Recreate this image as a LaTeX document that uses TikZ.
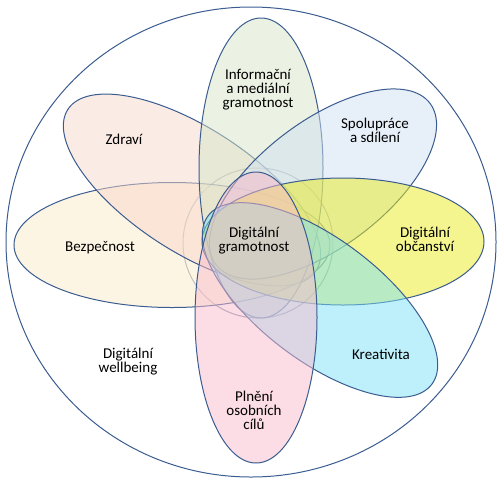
\documentclass[tikz,border=0pt]{standalone}
\usepackage{fontspec}
\setmainfont{Carlito}
\definecolor{edgeblue}{HTML}{3A5C90}
\definecolor{cBez}{HTML}{FBEBC9}
\definecolor{cZdr}{HTML}{F7D7CB}
\definecolor{cInf}{HTML}{D7E5C7}
\definecolor{cSpo}{HTML}{CFDFF1}
\definecolor{cObc}{HTML}{EBEB21}
\definecolor{cKre}{HTML}{7DE1F7}
\definecolor{cPln}{HTML}{F9BBCD}
\tikzset{
  petal/.style={draw=edgeblue, line width=1pt, fill opacity=0.5},
  lbl/.style={align=center, text=black, inner sep=0pt, font=\fontsize{15}{14}\selectfont}
}
\begin{document}
\begin{tikzpicture}[x=1pt,y=-1pt]
\useasboundingbox (0,0) rectangle (500,483);
% outer wellbeing circle
\draw[edgeblue, line width=1pt] (251,242) ellipse [x radius=245, y radius=235];
% central circle
\draw[edgeblue!55!gray!70, line width=1pt] (258,243) circle [radius=75];
% petals
\path[petal, fill=cBez] (172,245) ellipse [x radius=158, y radius=62.5];
\path[petal, fill=cZdr, rotate around={-33:(192,190)}] (192,190) ellipse [x radius=148, y radius=62];
\path[petal, fill=cInf] (261,168) ellipse [x radius=62, y radius=150];
\path[petal, fill=cSpo, rotate around={37:(323,184)}] (323,184) ellipse [x radius=134, y radius=63];
\path[petal, fill=cObc] (343,241.5) ellipse [x radius=141, y radius=63.5];
\path[petal, fill=cKre, rotate around={-37:(320,300)}] (320,300) ellipse [x radius=140, y radius=61];
\path[petal, fill=cPln] (256,317.5) ellipse [x radius=61, y radius=145.5];
% labels
\node[lbl] (inf) at (258,90) {Informační\\a mediální\\gramotnost};
\node[lbl] (spo) at (375,130) {Spolupráce\\a sdílení};
\node[lbl] (zdr) at (124,139) {Zdraví};
\node[lbl] (bez) at (100,248) {Bezpečnost};
\node[lbl] (dg) at (254,241) {Digitální\\gramotnost};
\node[lbl] (obc) at (425,239) {Digitální\\občanství};
\node[lbl] (kre) at (381,354) {Kreativita};
\node[lbl] (wel) at (128,362) {Digitální\\wellbeing};
\node[lbl] (pln) at (254,410) {Plnění\\osobních\\cílů};
\end{tikzpicture}
\end{document}
